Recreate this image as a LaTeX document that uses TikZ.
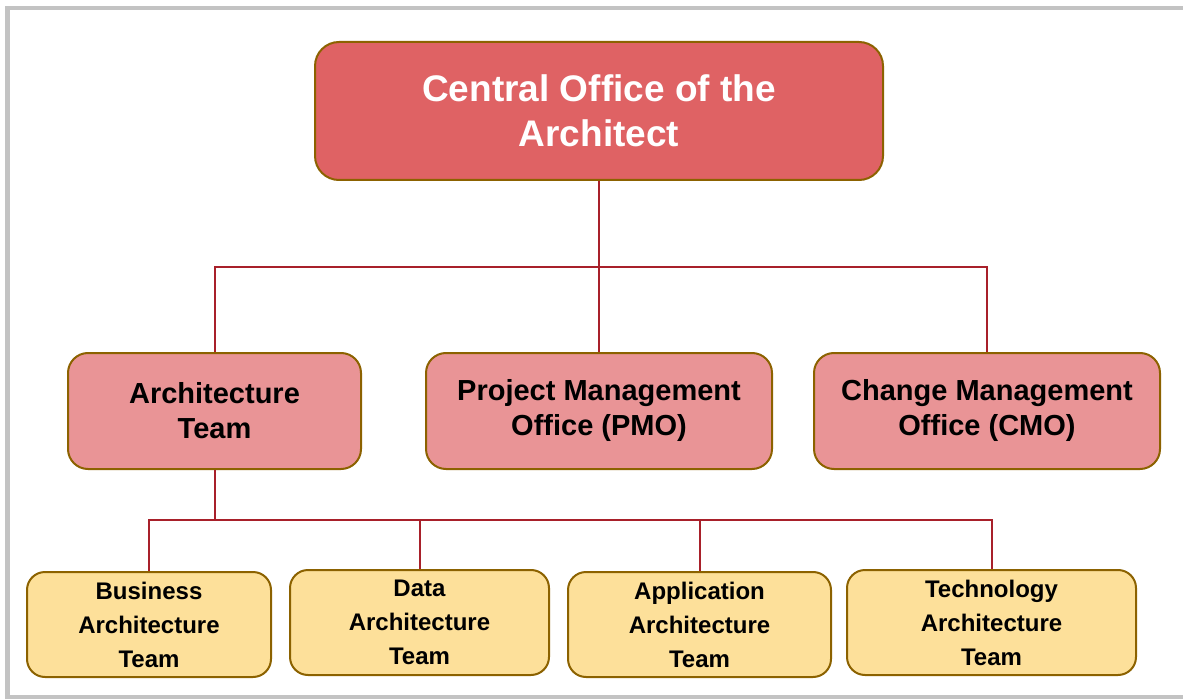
\documentclass[tikz,border=0pt]{standalone}
\usepackage{fontspec}
\setmainfont{Liberation Sans}
\usepackage{tikz}
\usetikzlibrary{arrows,shapes,positioning}
\usepackage{xcolor}
\definecolor{ocred}{RGB}{223,98,100}
\definecolor{ocpink}{RGB}{233,148,150}
\definecolor{ocyellow}{RGB}{253,224,154}
\definecolor{ocgold}{RGB}{140,98,0}
\definecolor{oclink}{RGB}{168,32,42}
\definecolor{ocframe}{RGB}{195,195,195}
\tikzstyle{office} = [rectangle, rounded corners=12pt, minimum width=284pt, minimum height=69pt, text centered, align=center, draw=ocgold, fill=ocred, line width=1pt, text=white, font=\bfseries\fontsize{18.5}{22.5}\selectfont]
\tikzstyle{unit} = [rectangle, rounded corners=10pt, minimum width=173pt, minimum height=58pt, text centered, align=center, draw=ocgold, fill=ocpink, line width=1pt, font=\bfseries\fontsize{14.5}{17.5}\selectfont]
\tikzstyle{team} = [rectangle, rounded corners=9pt, minimum height=52.5pt, text centered, align=center, draw=ocgold, fill=ocyellow, line width=1pt, font=\bfseries\fontsize{12}{17}\selectfont]
\tikzstyle{link} = [line width=1pt, color=oclink]
\begin{document}
\begin{tikzpicture}[x=0.5pt,y=-0.5pt]
\useasboundingbox (0,0) rectangle (1183,700);
\draw[ocframe, line width=2.25pt] (7.5,8) rectangle (1200,697);

% Central office
\node[office] (coa) at (599,111) {Central Office of the\\Architect};

% Offices and teams
\node[unit, minimum width=146.5pt] (arch) at (214.5,411) {Architecture\\Team};
\node[unit] (pmo) at (599,411) {Project Management\\Office (PMO)};
\node[unit] (cmo) at (987,411) {Change Management\\Office (CMO)};

% Architecture domains
\node[team, minimum width=122pt] (bus) at (149,624.5) {Business\\Architecture\\Team};
\node[team, minimum width=129.5pt] (data) at (419.5,622.5) {Data\\Architecture\\Team};
\node[team, minimum width=131.5pt] (app) at (699.5,624.5) {Application\\Architecture\\Team};
\node[team, minimum width=144.5pt] (tech) at (991.5,622.5) {Technology\\Architecture\\Team};

% Links
\coordinate (top) at (599,267);
\draw[link] (coa) -- (top);
\draw[link] (top) -| (arch);
\draw[link] (top) -- (pmo);
\draw[link] (top) -| (cmo);

\coordinate (mid) at (214.5,520);
\draw[link] (arch) -- (mid);
\draw[link] (mid) -| (bus);
\draw[link] (mid) -| (data);
\draw[link] (mid) -| (app);
\draw[link] (mid) -| (tech);
\end{tikzpicture}
\end{document}
